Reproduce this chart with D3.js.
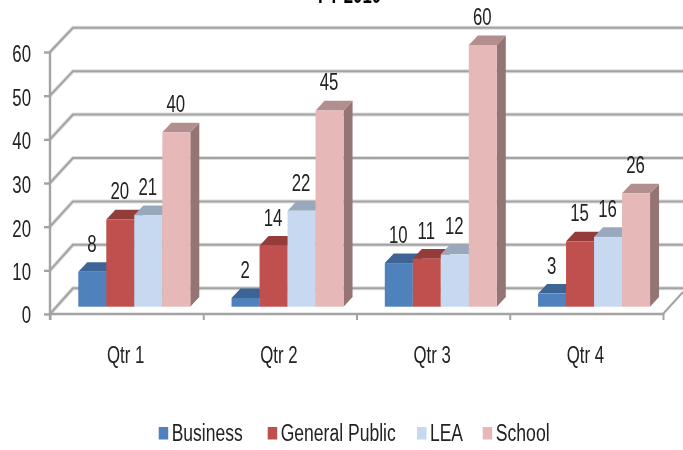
<!DOCTYPE html>
<html>
<head>
<meta charset="utf-8">
<script src="https://cdn.jsdelivr.net/npm/d3@7"></script>
<style>
  html, body { margin: 0; padding: 0; background: #fff; }
  svg { display: block; }
  text { font-family: "Liberation Sans", sans-serif; fill: #222; }
</style>
</head>
<body>
<div id="chart"></div>
<script>
var quarters = ["Qtr 1", "Qtr 2", "Qtr 3", "Qtr 4"];
var seriesNames = ["Business", "General Public", "LEA", "School"];
var business = [8, 2, 10, 3];
var generalPublic = [20, 14, 11, 15];
var lea = [21, 22, 12, 16];
var school = [40, 45, 60, 26];
var yTicks = [0, 10, 20, 30, 40, 50, 60];
var frontColors = ["#4f81bd", "#c0504d", "#c6d9f1", "#e6b9b8"];
var topColors = ["#3c6494", "#943c39", "#99a9bd", "#b28f8e"];
var sideColors = ["#2f4f75", "#75302e", "#8491a3", "#957574"];

var seriesValues = [business, generalPublic, lea, school];
var width = 683, height = 450;
var depthX = 9, depthY = 9.6, barW = 28;
var gridColor = "#a3a3a3";
var fontSize = 24, squeeze = 0.7;

var svg = d3.select("#chart").append("svg")
  .attr("width", width)
  .attr("height", height)
  .style("filter", "blur(0.4px)");

// y scales: front edge of the axis, back wall, and the floor the bars stand on
var y = d3.scaleLinear().domain([0, 60]).range([314, 52]);
var yBack = d3.scaleLinear().domain([0, 60]).range([288.3, 27.7]);
var yBar = d3.scaleLinear().domain([0, 60]).range([306.7, 45]);
var x = d3.scaleBand().domain(quarters).range([50, 663]);
var barX = d3.scaleBand().domain(seriesNames).range([0, barW * 4]);

// squeezed text, the reference is stretched vertically
function squeezed(sel, px, py, anchor) {
  return sel.attr("font-size", fontSize)
    .attr("text-anchor", anchor || "middle")
    .attr("transform", function(d, i) {
      return "translate(" + px(d, i) + "," + py(d, i) + ") scale(" + squeeze + ",1)";
    });
}

// title, cut off by the top edge like the reference
squeezed(svg.append("text").datum("FY 2010").text("FY 2010"),
  function() { return 349.5; }, function() { return 3; })
  .attr("font-weight", "bold").style("fill", "#000");

// gridlines, a pale halo under a darker line
[["#dedede", 4], [gridColor, 2]].forEach(function(s) {
  svg.append("g").selectAll("path")
    .data(yTicks)
    .enter().append("path")
      .attr("d", function(d) {
        return "M50," + y(d) + "L73," + yBack(d) + "H683";
      })
      .attr("fill", "none")
      .attr("stroke", s[0])
      .attr("stroke-width", s[1]);
});

// floor right edge
svg.append("path")
  .attr("d", "M663," + y(0) + "L683," + (y(0) - 22))
  .attr("fill", "none")
  .attr("stroke", gridColor)
  .attr("stroke-width", 2);

// y axis
var yAxis = svg.append("g")
  .attr("transform", "translate(50,0)")
  .call(d3.axisLeft(y).tickValues(yTicks).tickSize(6).tickPadding(0));
yAxis.select(".domain").attr("stroke", gridColor).attr("stroke-width", 2.4).attr("d", "M0,52V320");
yAxis.selectAll(".tick line").attr("stroke", gridColor).attr("stroke-width", 2.4);
yAxis.selectAll(".tick text").remove();
squeezed(svg.append("g").selectAll("text").data(yTicks).enter().append("text")
    .text(function(d) { return d; }),
  function() { return 31; }, function(d) { return y(d) + (d === 0 ? 9 : 10); }, "end");

// x axis, ticks sit between the quarters
var xAxis = svg.append("g")
  .attr("transform", "translate(0," + y(0) + ")")
  .call(d3.axisBottom(d3.scaleLinear().domain([0, 4]).range([50, 663]))
    .tickValues([0, 1, 2, 3, 4]).tickSize(6).tickFormat(""));
xAxis.select(".domain").attr("stroke", gridColor).attr("stroke-width", 2.4).attr("d", "M50,0H663");
xAxis.selectAll(".tick line").attr("stroke", gridColor).attr("stroke-width", 2);

squeezed(svg.append("g").selectAll("text").data(quarters).enter().append("text")
    .text(function(d) { return d; }),
  function(d) { return x(d) + x.bandwidth() / 2 - 1; }, function() { return 363; });

// bars, left to right so each front covers the side of the one before it
var bars = [];
quarters.forEach(function(q, qi) {
  seriesNames.forEach(function(name, si) {
    bars.push({ q: q, name: name, s: si, value: seriesValues[si][qi] });
  });
});
function left(d) { return x(d.q) + 28.3 + barX(d.name); }

var barG = svg.append("g").selectAll("g")
  .data(bars)
  .enter().append("g");

barG.append("path") // side
  .attr("d", function(d) {
    var l = left(d) + barW, t = yBar(d.value), b = yBar(0);
    return "M" + l + "," + t + "l" + depthX + "," + (-depthY) + "V" + (b - depthY) + "L" + l + "," + b + "Z";
  })
  .attr("fill", function(d) { return sideColors[d.s]; });

barG.append("path") // top
  .attr("d", function(d) {
    var l = left(d), t = yBar(d.value);
    return "M" + l + "," + t + "l" + depthX + "," + (-depthY) + "h" + barW + "l" + (-depthX) + "," + depthY + "Z";
  })
  .attr("fill", function(d) { return topColors[d.s]; });

barG.append("rect") // front
  .attr("x", left)
  .attr("y", function(d) { return yBar(d.value); })
  .attr("width", barW)
  .attr("height", function(d) { return yBar(0) - yBar(d.value); })
  .attr("fill", function(d) { return frontColors[d.s]; });

// value labels
squeezed(svg.append("g").selectAll("text").data(bars).enter().append("text")
    .text(function(d) { return d.value; }),
  function(d) { return left(d) + barW / 2 - 0.5; },
  function(d) { return yBar(d.value) - 20; });

// legend
var legendSwatchX = [158.7, 267.7, 417, 482.7];
var legendTextW = [71, 115, 33, 54];
var legend = svg.append("g").selectAll("g")
  .data(seriesNames)
  .enter().append("g");
legend.append("rect")
  .attr("x", function(d, i) { return legendSwatchX[i]; })
  .attr("y", 427)
  .attr("width", 9.5)
  .attr("height", 12.5)
  .attr("fill", function(d, i) { return frontColors[i]; });
legend.append("text")
  .text(function(d) { return d; })
  .attr("x", function(d, i) { return legendSwatchX[i] + 13; })
  .attr("y", 441)
  .attr("font-size", fontSize - 1)
  .attr("textLength", function(d, i) { return legendTextW[i]; })
  .attr("lengthAdjust", "spacingAndGlyphs");
</script>
</body>
</html>
